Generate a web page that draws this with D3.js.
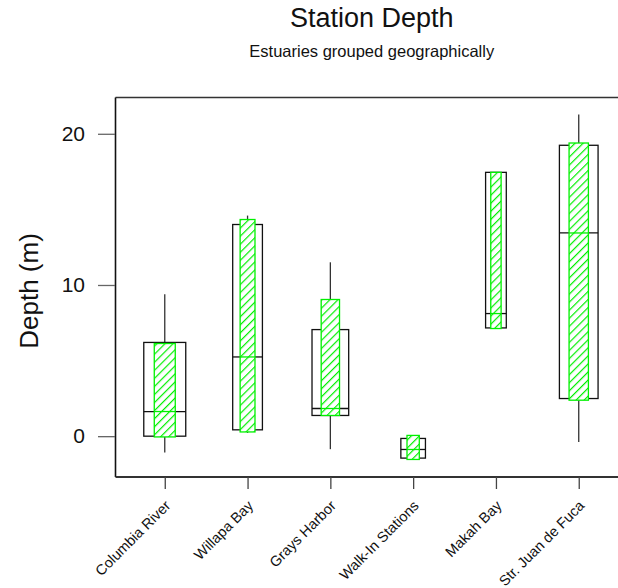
<!DOCTYPE html>
<html>
<head>
<meta charset="utf-8">
<script src="https://cdn.jsdelivr.net/npm/d3@7"></script>
<style>
  html, body { margin: 0; padding: 0; background: #fff; }
  svg { display: block; font-family: "Liberation Sans", Arial, Helvetica, sans-serif; }
</style>
</head>
<body>
<svg id="chart" width="618" height="588"></svg>
<script>
// ---- data ----
const categories = ["Columbia River", "Willapa Bay", "Grays Harbor", "Walk-In Stations", "Makah Bay", "Str. Juan de Fuca"];
// outer (black) box plot
const whiskerLow  = [-1.08, 0.22, -0.86, -1.45, 7.16, -0.38];
const q1          = [0.0, 0.42, 1.37, -1.45, 7.16, 2.49];
const median      = [1.63, 5.24, 1.83, -0.88, 8.11, 13.44];
const q3          = [6.2, 14.0, 7.05, -0.15, 17.45, 19.24];
const whiskerHigh = [9.39, 14.59, 11.5, -0.15, 17.45, 21.27];
// inner (green hatched) box
const innerLow    = [-0.05, 0.28, 1.37, -1.54, 7.12, 2.38];
const innerHigh   = [6.13, 14.33, 9.04, 0.05, 17.45, 19.39];
// relative box width (sample-size weighting)
const boxWeight   = [0.507, 0.359, 0.443, 0.297, 0.25, 0.467];
const yTicks = [0, 10, 20];

const titleText = "Station Depth";
const subtitleText = "Estuaries grouped geographically";
const yLabel = "Depth (m)";

(function () {
// ---- layout ----
const svg = d3.select("#chart");
const mLeft = 115.5, mRight = 628, mTop = 97.5, mBottom = 477;

const x = d3.scalePoint().domain(categories).range([mLeft, mRight]).padding(0.595);
const step = x.step();
const y = d3.scaleLinear().domain([-2.7, 22.4]).range([mBottom, mTop]);

const green = "#00f000";

// hatch pattern
const defs = svg.append("defs");
const pat = defs.append("pattern")
  .attr("id", "hatch")
  .attr("patternUnits", "userSpaceOnUse")
  .attr("width", 5.7).attr("height", 5.7)
  .attr("patternTransform", "rotate(45)");
pat.append("rect").attr("width", 5.7).attr("height", 5.7).attr("fill", "#fff");
pat.append("line").attr("x1", 0.6).attr("y1", 0).attr("x2", 0.6).attr("y2", 5.7)
  .attr("stroke", green).attr("stroke-width", 1.2);

// titles
svg.append("text").attr("x", (mLeft + mRight) / 2).attr("y", 26.7)
  .attr("text-anchor", "middle").attr("font-size", 27).attr("fill", "#111")
  .text(titleText);
svg.append("text").attr("x", (mLeft + mRight) / 2).attr("y", 57.3)
  .attr("text-anchor", "middle").attr("font-size", 16.5).attr("fill", "#111")
  .text(subtitleText);

// y axis label
svg.append("text")
  .attr("transform", `translate(29,291) rotate(-90)`)
  .attr("text-anchor", "middle").attr("dy", "0.35em")
  .attr("font-size", 26).attr("fill", "#111")
  .text(yLabel);

// frame
svg.append("line").attr("x1", mLeft).attr("x2", mRight + 5).attr("y1", mTop).attr("y2", mTop)
  .attr("stroke", "#333").attr("stroke-width", 1.4);
svg.append("line").attr("x1", mLeft).attr("x2", mLeft).attr("y1", mTop).attr("y2", mBottom)
  .attr("stroke", "#111").attr("stroke-width", 1.6);
svg.append("line").attr("x1", mLeft).attr("x2", mRight + 5).attr("y1", mBottom).attr("y2", mBottom)
  .attr("stroke", "#333").attr("stroke-width", 2);

// y axis ticks
const yAxis = d3.axisLeft(y).tickValues(yTicks).tickSize(17).tickPadding(13).tickFormat(d3.format("d"));
const gy = svg.append("g").attr("transform", `translate(${mLeft - 0.5},0)`).call(yAxis);
gy.select(".domain").remove();
gy.selectAll(".tick line").attr("stroke", "#666").attr("stroke-width", 1.3);
gy.selectAll(".tick text").attr("font-size", 21).attr("fill", "#111")
  .attr("font-family", '"Liberation Sans", Arial, sans-serif');

// x axis ticks
const xAxis = d3.axisBottom(x).tickSize(12).tickFormat("");
const gx = svg.append("g").attr("transform", `translate(0,${mBottom})`).call(xAxis);
gx.select(".domain").remove();
gx.selectAll(".tick line").attr("stroke", "#444").attr("stroke-width", 1.3);

// x labels rotated
svg.append("g").selectAll("text").data(categories).join("text")
  .attr("transform", d => `translate(${x(d) + 3},503) rotate(-45)`)
  .attr("text-anchor", "end").attr("dy", "0.35em")
  .attr("font-size", 14.5).attr("fill", "#111")
  .text(d => d);

// boxes
const data = categories.map((c, i) => ({
  c, wl: whiskerLow[i], q1: q1[i], med: median[i], q3: q3[i], wh: whiskerHigh[i],
  il: innerLow[i], ih: innerHigh[i], w: boxWeight[i] * step
}));

const g = svg.append("g");
const box = g.selectAll("g.box").data(data).join("g").attr("class", "box");

// whiskers
box.append("line")
  .attr("x1", d => x(d.c)).attr("x2", d => x(d.c))
  .attr("y1", d => y(d.wh)).attr("y2", d => y(Math.max(d.q3, d.ih)))
  .attr("stroke", "#333").attr("stroke-width", 1.3);
box.append("line")
  .attr("x1", d => x(d.c)).attr("x2", d => x(d.c))
  .attr("y1", d => y(Math.min(d.q1, d.il))).attr("y2", d => y(d.wl))
  .attr("stroke", "#333").attr("stroke-width", 1.3);

// outer box
box.append("rect")
  .attr("x", d => x(d.c) - d.w / 2).attr("width", d => d.w)
  .attr("y", d => y(d.q3)).attr("height", d => y(d.q1) - y(d.q3))
  .attr("fill", "none").attr("stroke", "#111").attr("stroke-width", 1.3);
box.append("line")
  .attr("x1", d => x(d.c) - d.w / 2).attr("x2", d => x(d.c) + d.w / 2)
  .attr("y1", d => y(d.med)).attr("y2", d => y(d.med))
  .attr("stroke", "#111").attr("stroke-width", 1.3);

// inner hatched box
box.append("rect")
  .attr("x", d => x(d.c) - d.w / 4).attr("width", d => d.w / 2)
  .attr("y", d => y(d.ih)).attr("height", d => y(d.il) - y(d.ih))
  .attr("fill", "url(#hatch)").attr("stroke", green).attr("stroke-width", 1.3);
box.append("line")
  .attr("x1", d => x(d.c) - d.w / 4).attr("x2", d => x(d.c) + d.w / 4)
  .attr("y1", d => y(d.med)).attr("y2", d => y(d.med))
  .attr("stroke", green).attr("stroke-width", 1.3);
})();
</script>
</body>
</html>
